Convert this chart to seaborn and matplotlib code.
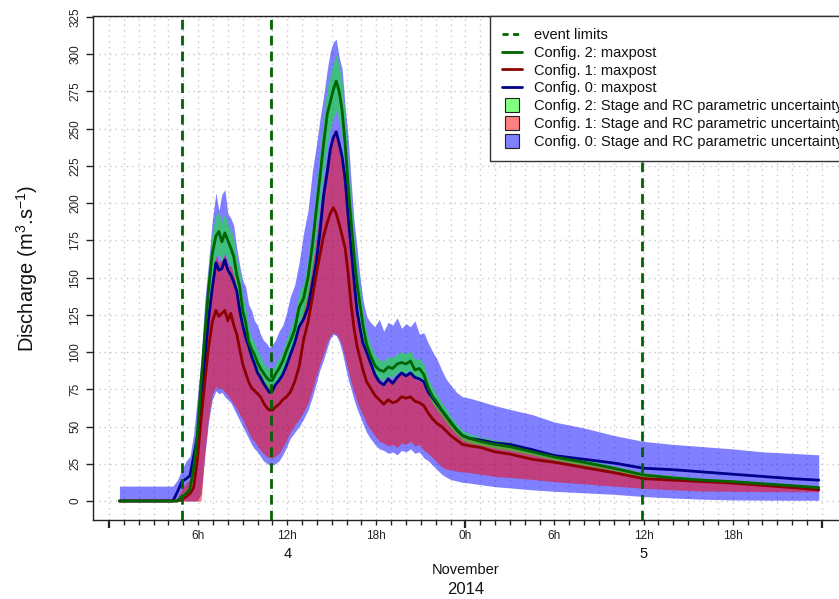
import numpy as np
import pandas as pd
import matplotlib
matplotlib.use("Agg")
import matplotlib.pyplot as plt
import matplotlib.transforms as mtransforms
from matplotlib.lines import Line2D
import seaborn as sns

# ---------------- data (hours since 4 Nov 2014 00:00) ----------------
hours = [0.7, 4.3, 4.6, 4.9, 5.2, 5.45, 5.7, 5.95,
         6.2, 6.45, 6.7, 6.95, 7.2, 7.4, 7.6, 7.8,
         8.0, 8.2, 8.4, 8.6, 8.8, 9.0, 9.2, 9.4, 9.6, 9.8,
         10.0, 10.2, 10.4, 10.6, 10.8, 11.0, 11.2, 11.45, 11.7, 11.95,
         12.2, 12.5, 12.8, 13.1, 13.4, 13.7, 13.95, 14.2, 14.45, 14.7, 14.9,
         15.1, 15.3, 15.5, 15.7, 15.9, 16.1, 16.3, 16.5, 16.7, 16.9,
         17.1, 17.35, 17.6, 17.9, 18.2, 18.5, 18.8, 19.1, 19.4, 19.7,
         20.0, 20.3, 20.6, 20.9, 21.2, 21.5, 21.8, 22.1, 22.4, 22.7,
         23.0, 23.4, 23.8, 24.3, 25.0, 26.0, 27.0, 28.5,
         30.0, 32.0, 34.0, 36.0, 38.0, 40.0, 42.0, 44.0, 46.0, 47.8]

q0_maxpost = [0, 0, 6, 13, 15, 17, 30, 43,
              60, 95, 122, 143, 160, 155, 156, 162,
              155, 152, 147, 141, 128, 118, 110, 104, 97, 92,
              86, 83, 79, 76, 73, 74, 78, 81, 85, 91,
              98, 106, 117, 122, 130, 146, 160, 180, 205, 221, 236,
              244, 248, 240, 231, 216, 192, 170, 148, 128, 116,
              106, 100, 93, 85, 80, 78, 82, 79, 83, 86,
              84, 86, 83, 82, 80, 73, 69, 65, 61, 57,
              53, 48, 44, 42, 41, 39, 38, 34.5,
              30.5, 28, 25.5, 22, 21, 19.5, 18, 16.5, 15, 14]

q1_maxpost = [0, 0, 0, 1, 3, 5, 9, 28,
              55, 80, 103, 120, 128, 124, 126, 128,
              121, 126, 118, 112, 102, 92, 86, 80, 76, 74,
              72, 70, 66, 63, 61, 61, 63, 65, 68, 70,
              73, 80, 90, 108, 120, 137, 152, 165, 178, 187, 193,
              197, 193, 186, 178, 170, 153, 132, 116, 104, 96,
              88, 80, 76, 71, 68, 65, 68, 66, 67, 70,
              69, 70, 67, 66, 64, 59, 55, 52, 50, 47,
              44, 41, 38, 37, 36, 33, 31.5, 28,
              26, 22.5, 19, 15, 14, 13, 12, 10.5, 9, 7.5]

q2_maxpost = [0, 0, 0, 3, 5, 8, 22, 45,
              80, 112, 142, 166, 178, 181, 174, 180,
              175, 170, 164, 152, 144, 128, 120, 107, 102, 98,
              93, 89, 86, 83, 81, 81, 85, 89, 94, 101,
              107, 115, 130, 136, 150, 172, 195, 217, 240, 260, 268,
              276, 282, 275, 262, 240, 212, 188, 165, 146, 132,
              118, 105, 98, 91, 88, 87, 90, 89, 92, 93,
              92, 94, 88, 89, 85, 76, 70, 66, 61, 57,
              53, 48, 44, 42, 40, 38, 36.5, 33,
              29.5, 26, 22, 17.5, 15.5, 14, 13, 11.6, 10.3, 9]

q0_low = [0, 0, 0, 0, 0, 0, 0, 0,
          5, 30, 53, 68, 74, 72, 73, 70,
          68, 66, 62, 58, 54, 50, 46, 42, 38, 35,
          33, 30, 27, 25.5, 24, 24, 25, 27, 31, 36,
          42, 46, 50, 55, 61, 70, 79, 88, 95, 103, 109,
          112, 111, 107, 100, 91, 82, 75, 68, 62, 57,
          52, 46, 42, 38, 35, 34, 32, 33, 31, 34,
          33, 35, 32, 33, 29, 27, 24, 21, 18, 16,
          14.5, 13.5, 12.5, 12, 11, 9.6, 8.8, 7.5,
          6.5, 5.5, 4.5, 3, 2, 1.2, 0.7, 0.6, 0.5, 0.5]

q0_high = [10, 10, 14, 21, 27, 30, 45, 70,
           95, 135, 160, 188, 207, 195, 206, 209,
           193, 190, 185, 170, 158, 148, 144, 132, 128, 121,
           118, 112, 108, 106, 103, 105, 108, 114, 118, 126,
           137, 145, 160, 180, 195, 222, 238, 256, 272, 290, 302,
           308, 310, 298, 290, 265, 245, 215, 188, 170, 150,
           135, 124, 120, 117, 122, 114, 120, 118, 123, 116,
           119, 117, 121, 112, 113, 106, 100, 95, 88, 82,
           78, 73, 70, 69, 67, 64, 61.5, 58,
           53, 49, 44, 40, 38, 36.5, 35, 33, 32, 31]

q1_low = [0, 0, 0, 0, 0, 0, 0, 0,
          0, 33, 56, 72, 77, 75, 76, 73,
          71, 68, 65, 62, 58, 55, 50, 46, 42, 40,
          37, 34, 32, 30, 29, 29, 30, 32, 36, 41,
          46, 51, 55, 60, 66, 75, 84, 92, 99, 107, 111,
          113, 112, 109, 104, 96, 88, 80, 73, 67, 62,
          58, 52, 48, 44, 40, 39, 37, 38, 36, 39,
          38, 40, 37, 38, 34, 32, 29, 26, 23, 21.5,
          21, 20, 19.5, 19, 18, 16.5, 15.8, 14.5,
          13, 11.5, 10, 8.5, 7.5, 6.7, 6.5, 6.3, 6.2, 6.2]

q1_high = [0, 0, 2, 8, 12, 15, 22, 45,
           70, 100, 128, 150, 165, 160, 162, 166,
           158, 158, 152, 145, 132, 120, 112, 105, 99, 94,
           89, 86, 82, 79, 77, 77, 80, 83, 87, 92,
           98, 105, 115, 130, 142, 160, 175, 195, 215, 230, 240,
           246, 246, 238, 228, 214, 190, 167, 146, 130, 120,
           108, 99, 93, 86, 82, 79, 83, 81, 82, 86,
           85, 85, 82, 81, 78, 72, 67, 63, 60, 56,
           52, 48, 44, 42, 41, 38, 36, 32,
           29, 25.5, 22, 17.5, 16, 15, 14, 12.5, 11, 9.5]

q2_low = [0, 0, 0, 2, 4, 6, 16, 35,
          68, 98, 128, 152, 164, 166, 161, 167,
          161, 158, 152, 141, 132, 118, 110, 99, 94, 90,
          86, 82, 79, 77, 75, 75, 78, 82, 87, 93,
          99, 106, 120, 126, 138, 158, 180, 200, 222, 240, 250,
          257, 262, 256, 244, 223, 196, 174, 152, 135, 122,
          109, 98, 91, 85, 82, 81, 84, 83, 86, 87,
          86, 88, 82, 83, 79, 71, 65, 61, 57, 53,
          49, 45, 41, 39, 37.5, 35.5, 34, 31,
          27.5, 24, 20.5, 16, 14, 12.8, 11.8, 10.5, 9.3, 8.1]

q2_high = [0, 0, 1, 5, 7, 11, 30, 56,
           92, 126, 156, 180, 192, 194, 187, 193,
           186, 182, 176, 163, 155, 138, 130, 116, 110, 106,
           101, 97, 93, 90, 88, 88, 92, 96, 101, 109,
           115, 124, 140, 146, 162, 185, 210, 233, 257, 278, 286,
           294, 300, 292, 280, 258, 228, 203, 178, 158, 143,
           128, 113, 105, 98, 95, 94, 97, 96, 99, 100,
           99, 101, 95, 96, 92, 82, 76, 71, 66, 62,
           57, 52, 47.5, 45, 43, 41, 39.5, 35.5,
           31.5, 28, 23.5, 19, 17, 15.2, 14.2, 12.7, 11.3, 9.9]

event_limits = [4.93, 10.93, 35.9]

hour_tick_pos = [6, 12, 18, 30, 36, 42]
hour_tick_labels = ["6h", "12h", "18h", "6h", "12h", "18h"]
day_tick_pos = [0, 24, 48]
day_tick_labels = ["", "0h", ""]
day_names = ["4", "5"]
day_name_pos = [12, 36]
month_label = "November"
year_label = "2014"
y_ticks = [0, 25, 50, 75, 100, 125, 150, 175, 200, 225, 250, 275, 300, 325]

configs = ["Config. 0", "Config. 1", "Config. 2"]
line_colors = {"Config. 0": "#00008B", "Config. 1": "#8B0000", "Config. 2": "#006400"}
band_colors = {"Config. 0": "#0000FF", "Config. 1": "#FF0000", "Config. 2": "#00FF00"}

# ---------------- build tables ----------------
df = pd.DataFrame({
    "hours": hours,
    "Config. 0": q0_maxpost,
    "Config. 1": q1_maxpost,
    "Config. 2": q2_maxpost,
})
long = df.melt(id_vars="hours", value_vars=configs, var_name="config", value_name="Q")
bands = {
    "Config. 0": (q0_low, q0_high),
    "Config. 1": (q1_low, q1_high),
    "Config. 2": (q2_low, q2_high),
}

# ---------------- style ----------------
sns.set_theme(style="white")
plt.rcParams["font.family"] = ["Liberation Sans", "DejaVu Sans"]
plt.rcParams["mathtext.fontset"] = "custom"
plt.rcParams["mathtext.rm"] = "Liberation Sans"
plt.rcParams["mathtext.it"] = "Liberation Sans:italic"

W, H = 839, 599
fig = plt.figure(figsize=(W / 100, H / 100), dpi=100)
fig.patch.set_facecolor("white")
ax = fig.add_axes([93 / W, (H - 520) / H, 754 / W, 504 / H])
ax.set_facecolor("white")

# bands
for c in configs:
    lo, hi = bands[c]
    ax.fill_between(hours, lo, hi, color=band_colors[c], alpha=0.5, linewidth=0, zorder=2)

# maxpost lines
sns.lineplot(data=long, x="hours", y="Q", hue="config", hue_order=configs,
             palette=line_colors, linewidth=2.0, legend=False, ax=ax,
             estimator=None, sort=False, zorder=3)

# event limits
for ev in event_limits:
    ax.axvline(ev, color="#006400", linestyle=(0, (3.5, 2.2)), linewidth=2.0, zorder=4)

# axes limits
ax.set_xlim(-1.08, 49.7)
ax.set_ylim(-12.76, 325.67)

# ticks and grid
ax.set_yticks(y_ticks)
ax.set_yticklabels([str(v) for v in y_ticks])
ax.set_xticks(day_tick_pos)
ax.set_xticklabels(day_tick_labels)
minor_pos = list(range(0, 49))
minor_lab = [hour_tick_labels[hour_tick_pos.index(h)] if h in hour_tick_pos else "" for h in minor_pos]
ax.set_xticks(minor_pos, minor=True)
ax.set_xticklabels(minor_lab, minor=True)

grid_kw = dict(color="#C8C8C8", linestyle=(0, (1, 3)), linewidth=1.0)
ax.grid(True, which="both", axis="x", **grid_kw)
ax.grid(True, which="major", axis="y", **grid_kw)
ax.set_axisbelow(True)

for s in ax.spines.values():
    s.set_color("#222222")
    s.set_linewidth(1.0)

ax.tick_params(axis="x", which="major", length=6, width=1.6, pad=1.0, labelsize=8.5,
               bottom=True, colors="#222222", labelcolor="#222222")
ax.tick_params(axis="x", which="minor", length=3.8, width=1.0, pad=3.2, labelsize=8.5,
               bottom=True, colors="#222222", labelcolor="#222222")
ax.tick_params(axis="y", which="major", length=5, width=1.0, pad=3.5, labelsize=8.5,
               left=True, labelrotation=90, colors="#222222", labelcolor="#222222")
for lab in ax.get_yticklabels():
    lab.set_verticalalignment("center")

ax.set_xlabel("")
ax.set_ylabel(r"Discharge (m$^{3}$.s$^{-1}$)", fontsize=14.4, color="#111111", va="center")
ax.yaxis.set_label_coords(-0.0875, 0.5)

# secondary date labels
trans = mtransforms.blended_transform_factory(ax.transData, ax.transAxes)
for p, d in zip(day_name_pos, day_names):
    ax.text(p, -0.0665, d, transform=trans, ha="center", va="center", fontsize=10.5, color="#111111")
ax.text(24, -0.0985, month_label, transform=trans, ha="center", va="center", fontsize=10.5, color="#111111")
ax.text(24, -0.137, year_label, transform=trans, ha="center", va="center", fontsize=12, color="#111111")

# legend
handles = [
    Line2D([], [], color="#006400", linestyle=(0, (2.2, 1.6)), linewidth=2.0, label="event limits"),
    Line2D([], [], color=line_colors["Config. 2"], linewidth=2.0, label="Config. 2: maxpost"),
    Line2D([], [], color=line_colors["Config. 1"], linewidth=2.0, label="Config. 1: maxpost"),
    Line2D([], [], color=line_colors["Config. 0"], linewidth=2.0, label="Config. 0: maxpost"),
    Line2D([], [], linestyle="none", marker="s", markersize=10.5, markerfacecolor="#80FF80",
           markeredgecolor="#222222", markeredgewidth=0.8,
           label="Config. 2: Stage and RC parametric uncertainty"),
    Line2D([], [], linestyle="none", marker="s", markersize=10.5, markerfacecolor="#FF8080",
           markeredgecolor="#222222", markeredgewidth=0.8,
           label="Config. 1: Stage and RC parametric uncertainty"),
    Line2D([], [], linestyle="none", marker="s", markersize=10.5, markerfacecolor="#8080FF",
           markeredgecolor="#222222", markeredgewidth=0.8,
           label="Config. 0: Stage and RC parametric uncertainty"),
]
leg = fig.legend(handles=handles, loc="upper left", bbox_to_anchor=(490 / W, 1 - 16 / H),
                 bbox_transform=fig.transFigure, borderaxespad=0, fontsize=10.5,
                 frameon=True, fancybox=False, framealpha=1, edgecolor="#333333",
                 handlelength=1.4, handletextpad=0.8, labelspacing=0.27, borderpad=0.8)
leg.get_frame().set_linewidth(1.0)
for t in leg.get_texts():
    t.set_color("#111111")

fig.savefig("out.png", dpi=100, facecolor="white")
